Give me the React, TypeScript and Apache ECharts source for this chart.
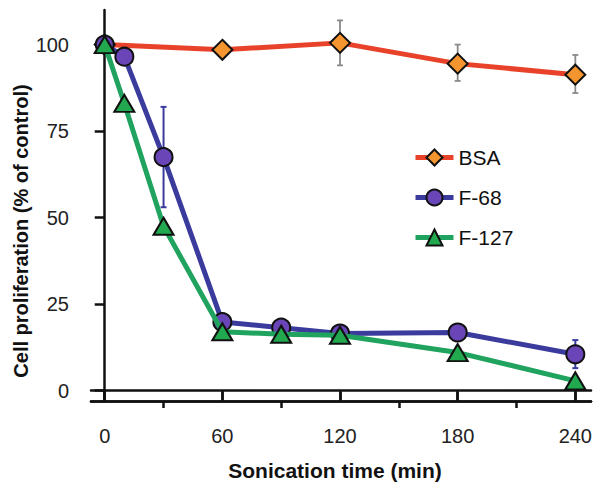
import React, { useEffect, useRef } from "react";
import * as echarts from "echarts";

const xMajorTicks = [0, 60, 120, 180, 240];
const xMinorTicks = [30, 90, 150, 210];
const yTicks = [0, 25, 50, 75, 100];

const bsaTimes = [0, 60, 120, 180, 240];
const bsaValues = [100, 98.5, 100.5, 94.5, 91.3];
const f68Times = [0, 10, 30, 60, 90, 120, 180, 240];
const f68Values = [100, 96.5, 67.5, 19.8, 18.2, 16.5, 16.8, 10.5];
const f127Times = [0, 10, 30, 60, 90, 120, 180, 240];
const f127Values = [100, 83, 47.5, 17, 16.3, 16, 11, 2.8];

// error bars: [time, low, high]
const bsaErrors = [
  [120, 94, 107],
  [180, 89.5, 100],
  [240, 86, 97],
];
const f68Errors = [
  [30, 53, 82],
  [240, 6.5, 14.6],
];

const FONT = "Liberation Sans, Arial, Helvetica, sans-serif";

function zip(xs: number[], ys: number[]) {
  return xs.map((x, i) => [x, ys[i]]);
}

function errorSeries(data: number[][], color: string, width: number) {
  return {
    type: "custom",
    z: 1,
    silent: true,
    data,
    encode: { x: 0, y: [1, 2] },
    renderItem: (params: any, api: any) => {
      const x = api.value(0);
      const lo = api.coord([x, api.value(1)]);
      const hi = api.coord([x, api.value(2)]);
      const cap = 3;
      const style = { stroke: color, lineWidth: width };
      return {
        type: "group",
        children: [
          { type: "line", shape: { x1: lo[0], y1: lo[1], x2: hi[0], y2: hi[1] }, style },
          { type: "line", shape: { x1: hi[0] - cap, y1: hi[1], x2: hi[0] + cap, y2: hi[1] }, style },
          { type: "line", shape: { x1: lo[0] - cap, y1: lo[1], x2: lo[0] + cap, y2: lo[1] }, style },
        ],
      };
    },
  };
}

export default function App() {
  const ref = useRef<HTMLDivElement>(null);
  useEffect(() => {
    document.body.style.margin = "0";
    const chart = echarts.init(ref.current!, undefined, { renderer: "svg" });
    const axisLineStyle = { color: "#111", width: 2.5 };
    const xBase = {
      type: "value",
      min: -7,
      max: 248,
      position: "bottom",
      axisLine: { show: true, onZero: true, lineStyle: axisLineStyle },
      splitLine: { show: false },
    };
    chart.setOption({
      animation: false,
      backgroundColor: "#ffffff",
      grid: { left: 91, right: 11, top: 10, bottom: 90, containLabel: false, outerBoundsMode: "none" },
      xAxis: [
        {
          ...xBase,
          axisTick: { show: true, customValues: xMajorTicks, length: 10, lineStyle: { color: "#111", width: 2.5 } },
          axisLabel: { show: true, customValues: xMajorTicks, margin: 25, fontSize: 20, color: "#222", fontFamily: FONT },
        },
        {
          ...xBase,
          axisTick: { show: true, inside: true, customValues: xMajorTicks, length: 9, lineStyle: { color: "#111", width: 2.5 } },
          axisLabel: { show: false },
        },
        {
          ...xBase,
          axisTick: { show: true, customValues: xMinorTicks, length: 7, lineStyle: { color: "#111", width: 2.5 } },
          axisLabel: { show: false },
        },
      ],
      yAxis: {
        type: "value",
        min: -3,
        max: 110,
        axisLine: { show: true, onZero: true, lineStyle: axisLineStyle },
        splitLine: { show: false },
        axisTick: { show: true, customValues: yTicks, length: 10, lineStyle: { color: "#111", width: 2.5 } },
        axisLabel: { show: true, customValues: yTicks, margin: 22, fontSize: 20, color: "#222", fontFamily: FONT },
      },
      legend: {
        orient: "vertical",
        left: 413,
        top: 147,
        padding: 0,
        itemWidth: 38,
        itemHeight: 20,
        itemGap: 19,
        data: ["BSA", "F-68", "F-127"],
        lineStyle: { width: 5 },
        textStyle: { fontSize: 21, color: "#111", fontFamily: FONT },
      },
      graphic: [
        {
          type: "text",
          x: 335,
          y: 470,
          style: {
            text: "Sonication time (min)",
            fontSize: 21,
            fontWeight: "bold",
            fontFamily: FONT,
            fill: "#111",
            align: "center",
            verticalAlign: "middle",
          },
        },
        {
          type: "text",
          x: 21,
          y: 231,
          rotation: Math.PI / 2,
          style: {
            text: "Cell proliferation (% of control)",
            fontSize: 20,
            fontWeight: "bold",
            fontFamily: FONT,
            fill: "#111",
            align: "center",
            verticalAlign: "middle",
          },
        },
      ],
      series: [
        errorSeries(bsaErrors, "#8a8a8a", 1.8),
        errorSeries(f68Errors, "#3b3b9e", 2),
        {
          name: "BSA",
          type: "line",
          z: 2,
          data: zip(bsaTimes, bsaValues),
          symbol: "diamond",
          symbolSize: 20,
          lineStyle: { color: "#e8432a", width: 5 },
          itemStyle: { color: "#f5952f", borderColor: "#111", borderWidth: 2 },
        },
        {
          name: "F-68",
          type: "line",
          z: 3,
          data: zip(f68Times, f68Values),
          symbol: "circle",
          symbolSize: 18,
          lineStyle: { color: "#3b3b9e", width: 5 },
          itemStyle: { color: "#6a45b8", borderColor: "#111", borderWidth: 2 },
        },
        {
          name: "F-127",
          type: "line",
          z: 4,
          data: zip(f127Times, f127Values),
          symbol: "triangle",
          symbolSize: [20, 17],
          lineStyle: { color: "#1fa35e", width: 5 },
          itemStyle: { color: "#22a84f", borderColor: "#111", borderWidth: 2 },
        },
      ],
    });
    return () => chart.dispose();
  }, []);
  return <div ref={ref} style={{ position: "absolute", left: 0, top: 0, width: 602, height: 491 }} />;
}
